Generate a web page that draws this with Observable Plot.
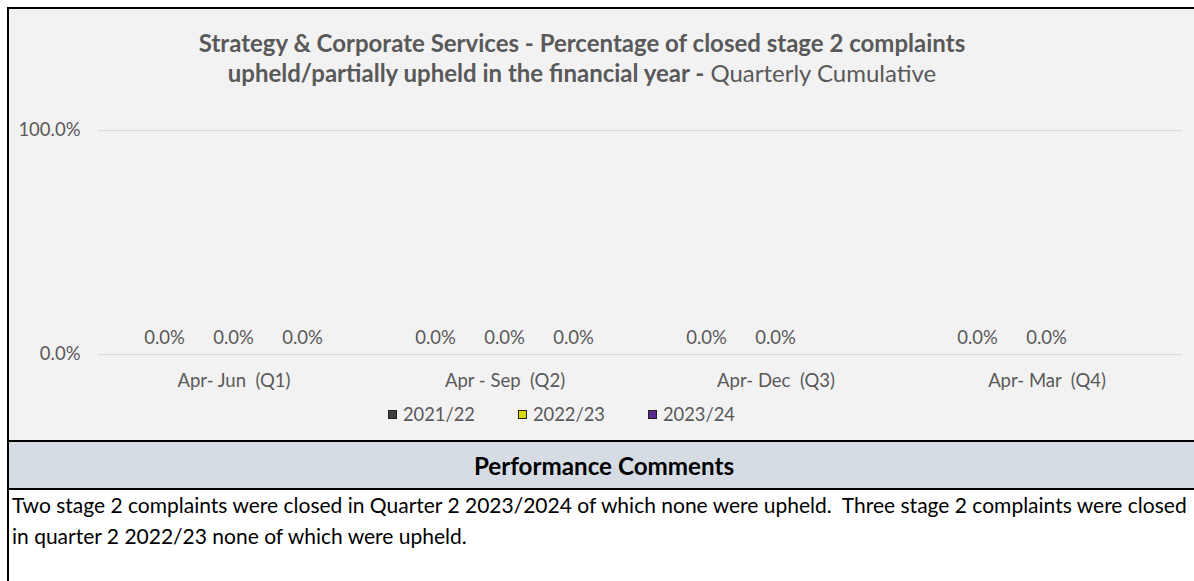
<!DOCTYPE html>
<html><head><meta charset="utf-8">
<script src="https://cdn.jsdelivr.net/npm/d3@7"></script>
<script src="https://cdn.jsdelivr.net/npm/@observablehq/plot@0.6"></script>
<style>
body{margin:0;background:#fff;font-family:Lato,"Open Sans",sans-serif;width:1194px;height:581px;overflow:hidden;position:relative;}
.abs{position:absolute;}
#bg{left:9px;top:9px;width:1185px;height:431px;background:#f2f2f2;}
#bl{left:7px;top:7px;width:2px;height:574px;background:#000;}
#bt{left:7px;top:7px;width:1187px;height:2px;background:#000;}
#title{left:0;top:28px;width:1164px;text-align:center;color:#595959;font-size:24px;line-height:30px;white-space:nowrap;}
#title b{font-weight:700;}
#plot{left:8px;top:108px;}
#plot svg text{white-space:pre;}
#legend{left:388px;top:403px;display:flex;color:#595959;font-size:18.3px;line-height:22px;}
#legend .item{display:flex;align-items:center;width:130px;}
#legend .sw{width:9px;height:9px;margin-right:6px;box-sizing:border-box;border:1px solid #222;}
#hdr{left:9px;top:440px;width:1185px;height:46px;background:#d6dce4;border-top:2px solid #000;border-bottom:2px solid #000;font-weight:700;font-size:24.2px;line-height:48px;color:#000;box-sizing:content-box;}
#hdrtext{position:absolute;left:0;width:1190px;text-align:center;}
#txt{left:12px;top:489px;font-size:21px;line-height:31px;color:#000;white-space:nowrap;}
</style></head>
<body>
<div id="bg" class="abs"></div>
<div id="bl" class="abs"></div>
<div id="bt" class="abs"></div>
<div id="title" class="abs"></div>
<div id="plot" class="abs"></div>
<div id="legend" class="abs"></div>
<div id="hdr" class="abs"><span id="hdrtext">Performance Comments</span></div>
<div id="txt" class="abs"></div>
<script>
const titleLine1 = "Strategy & Corporate Services - Percentage of closed stage 2 complaints";
const titleLine2Bold = "upheld/partially upheld in the financial year -";
const titleLine2Rest = " Quarterly Cumulative";
const quarters = ["Apr- Jun  (Q1)", "Apr - Sep  (Q2)", "Apr- Dec  (Q3)", "Apr- Mar  (Q4)"];
const seriesNames = ["2021/22", "2022/23", "2023/24"];
const values2021_22 = [0, 0, 0, 0];
const values2022_23 = [0, 0, 0, 0];
const values2023_24 = [0, 0, null, null];
const seriesColors = ["#3f3f3f", "#d9d900", "#5b2a91"];
const yTicks = [0, 1];
const commentLines = [
  "Two stage 2 complaints were closed in Quarter 2 2023/2024 of which none were upheld.  Three stage 2 complaints were closed",
  "in quarter 2 2022/23 none of which were upheld."
];

document.getElementById("title").innerHTML =
  "<b>" + titleLine1.replace(/&/g, "&amp;") + "</b><br><b>" + titleLine2Bold + "</b>" + titleLine2Rest;
document.getElementById("txt").innerHTML = commentLines.map(l => l.replace(/  /g, " &nbsp;")).join("<br>");

const seriesValues = [values2021_22, values2022_23, values2023_24];
const rows = [];
quarters.forEach((q, i) => {
  seriesNames.forEach((s, j) => {
    const v = seriesValues[j][i];
    if (v != null) rows.push({quarter: q, series: s, value: v});
  });
});

const fmt = d3.format(".1%");
const chart = Plot.plot({
  width: 1186,
  height: 290,
  marginTop: 22,
  marginBottom: 44,
  marginLeft: 89,
  marginRight: 11,
  style: {background: "transparent", fontFamily: "Lato, sans-serif", fontSize: "18.5px", color: "#595959"},
  fx: {domain: quarters, padding: 0, label: null, axis: "bottom", tickSize: 0, tickPadding: 19},
  x: {domain: seriesNames, axis: null, paddingInner: 0.3, paddingOuter: 0.59},
  y: {domain: [0, 1], axis: null},
  color: {domain: seriesNames, range: seriesColors},
  marks: [
    Plot.gridY(yTicks, {stroke: "#d9d9d9", strokeOpacity: 1, strokeWidth: 1}),
    Plot.axisY(yTicks, {tickSize: 0, tickPadding: 18, tickFormat: fmt, label: null, fill: "#595959", facetAnchor: "left"}),
    Plot.barY(rows, {fx: "quarter", x: "series", y: "value", fill: "series"}),
    Plot.text(rows, {fx: "quarter", x: "series", y: "value", text: d => fmt(d.value), dy: -16, fill: "#595959"})
  ]
});
document.getElementById("plot").appendChild(chart);

const legend = document.getElementById("legend");
seriesNames.forEach((s, i) => {
  const item = document.createElement("div");
  item.className = "item";
  item.innerHTML = `<span class="sw" style="background:${seriesColors[i]}"></span><span>${s}</span>`;
  legend.appendChild(item);
});
</script>
</body></html>
